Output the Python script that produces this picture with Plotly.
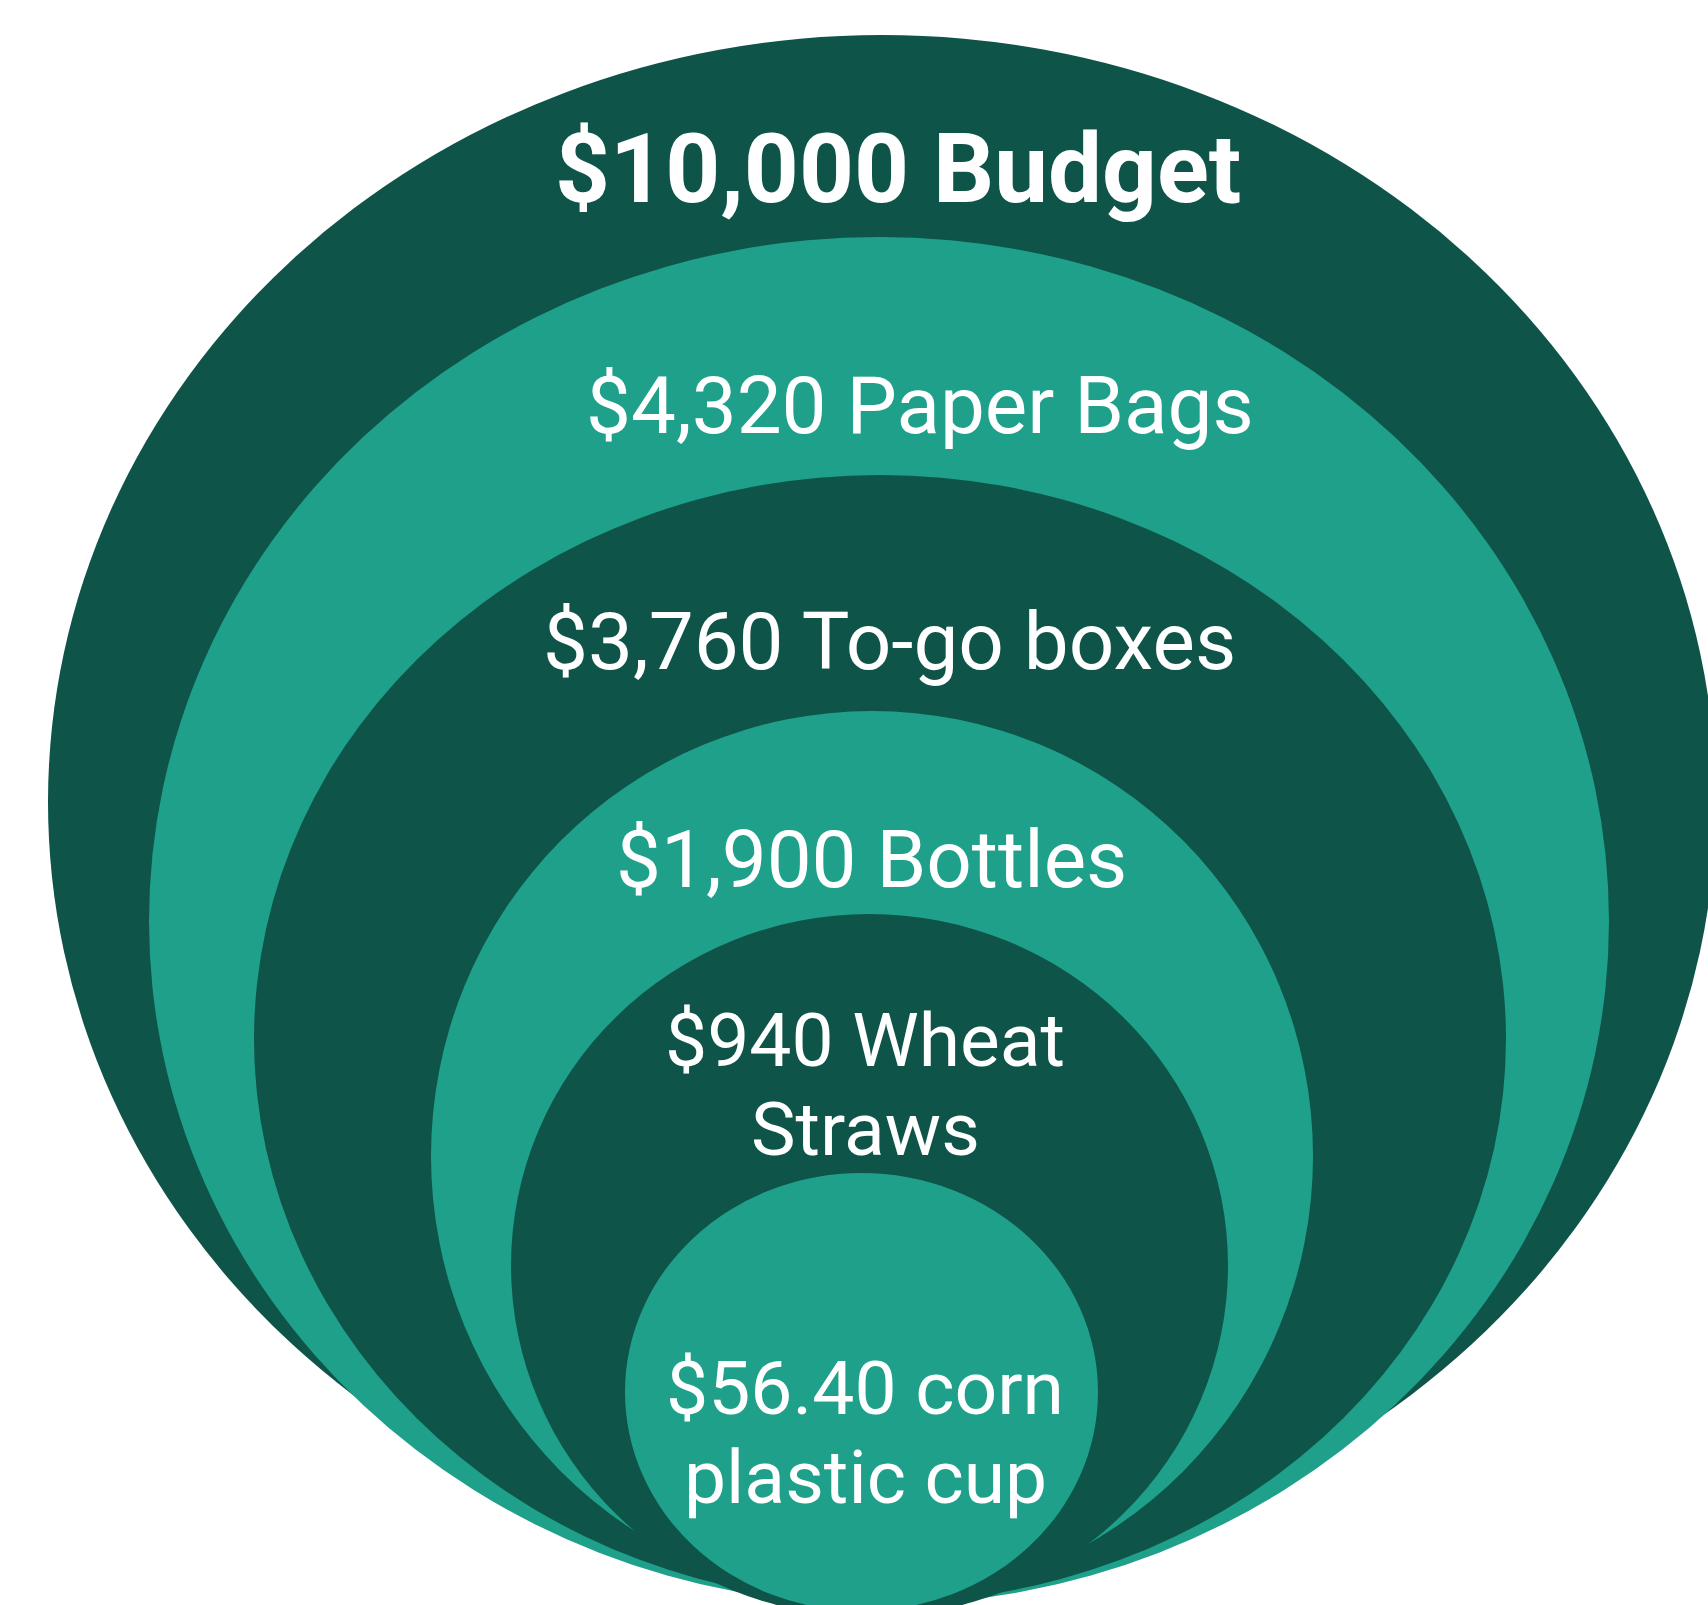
import plotly.graph_objects as go

# ---- data ----
items = ["Budget", "Paper Bags", "To-go boxes", "Bottles", "Wheat Straws", "corn plastic cup"]
amounts = [10000, 4320, 3760, 1900, 940, 56.40]
line_breaks = [None, None, None, None, "Wheat", "corn"]  # word after which the label wraps

# ---- layout geometry (pixel space) ----
W, H = 1708, 1605
ell_cx = [882, 879, 880, 872, 869.5, 861.5]
ell_cy = [802, 921, 1039, 1156, 1265.5, 1392]
ell_rx = [834, 730, 626, 441, 358.5, 236.5]
ell_ry = [767, 684, 564, 445, 351.5, 219]
label_x = [898, 920, 889, 871, 865, 865]
label_y = [169, 406, 642, 860, 1084, 1432]
label_size = [96, 80, 80, 80, 75, 75]
line_gap = 89

DARK = "#0e5449"
TEAL = "#1fa08a"
fills = [DARK, TEAL, DARK, TEAL, DARK, TEAL]


def fmt(v):
    if float(v).is_integer():
        return "${:,.0f}".format(v)
    return "${:,.2f}".format(v)


def label_lines(i):
    text = fmt(amounts[i]) + " " + items[i]
    br = line_breaks[i]
    if br is None:
        return [text]
    head, tail = text.split(br, 1)
    return [(head + br).strip(), tail.strip()]


fig = go.Figure()
# invisible trace to establish axes
fig.add_trace(go.Scatter(x=[0, W], y=[0, H], mode="markers",
                         marker=dict(opacity=0), hoverinfo="skip", showlegend=False))

shapes = []
for i in range(len(items)):
    shapes.append(dict(type="circle", xref="x", yref="y",
                       x0=ell_cx[i] - ell_rx[i], x1=ell_cx[i] + ell_rx[i],
                       y0=ell_cy[i] - ell_ry[i], y1=ell_cy[i] + ell_ry[i],
                       fillcolor=fills[i], line=dict(width=0), layer="below"))

annotations = []
for i in range(len(items)):
    lines = label_lines(i)
    n = len(lines)
    for j, ln in enumerate(lines):
        y = label_y[i] + (j - (n - 1) / 2) * line_gap
        annotations.append(dict(
            x=label_x[i], y=y, xref="x", yref="y", text=ln, showarrow=False,
            xanchor="center", yanchor="middle",
            font=dict(family="Roboto", size=label_size[i], color="white",
                      weight=700 if i == 0 else 400)))

fig.update_layout(
    width=W, height=H,
    margin=dict(l=0, r=0, t=0, b=0),
    paper_bgcolor="white", plot_bgcolor="white",
    shapes=shapes, annotations=annotations,
    xaxis=dict(range=[0, W], visible=False, fixedrange=True),
    yaxis=dict(range=[H, 0], visible=False, fixedrange=True),
    showlegend=False,
)

fig.write_html(
    "out.html",
    config={"displayModeBar": False},
    post_script="document.body.style.margin='0';"
                "document.documentElement.style.overflow='hidden';"
                "document.body.style.overflow='hidden';",
)
